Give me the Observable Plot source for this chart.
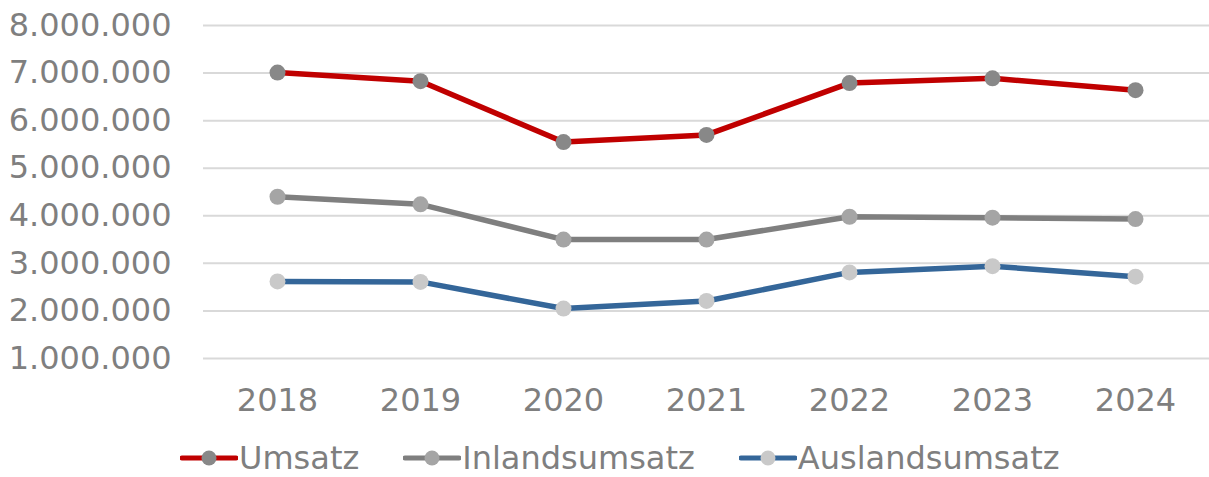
<!DOCTYPE html>
<html>
<head>
<meta charset="utf-8">
<script src="https://cdn.jsdelivr.net/npm/d3@7"></script>
<script src="https://cdn.jsdelivr.net/npm/@observablehq/plot@0.6"></script>
<style>
  html, body { margin: 0; padding: 0; background: #fff; }
  body { width: 1209px; height: 477px; position: relative; overflow: hidden; font-family: "DejaVu Sans", Verdana, sans-serif; }
  #legend { position: absolute; left: 180px; top: 440px; height: 36px; display: flex; align-items: center; font-size: 32px; line-height: 1; color: #7f7f7f; }
  .item { display: flex; align-items: center; margin-right: 44px; }
  .item svg { margin-right: 1px; }
</style>
</head>
<body>
<div id="chart"></div>
<div id="legend"></div>
<script>
const years = ["2018", "2019", "2020", "2021", "2022", "2023", "2024"];
const umsatz = [7010000, 6830000, 5550000, 5700000, 6790000, 6890000, 6640000];
const inlandsumsatz = [4400000, 4240000, 3500000, 3500000, 3980000, 3960000, 3930000];
const auslandsumsatz = [2620000, 2610000, 2050000, 2210000, 2810000, 2940000, 2720000];
const yTicks = [1000000, 2000000, 3000000, 4000000, 5000000, 6000000, 7000000, 8000000];
const seriesNames = ["Umsatz", "Inlandsumsatz", "Auslandsumsatz"];
const lineColors = ["#c00000", "#7f7f7f", "#346699"];
const dotColors = ["#888888", "#a5a5a5", "#c9c9c9"];

const seriesValues = [umsatz, inlandsumsatz, auslandsumsatz];
const data = seriesNames.map((name, s) => years.map((year, i) => ({ series: name, year, value: seriesValues[s][i] })));

const de = d3.formatLocale({ decimal: ",", thousands: ".", grouping: [3], currency: ["", " €"] });
const fmt = de.format(",");

const marks = [
  Plot.gridY(yTicks, { stroke: "#d9d9d9", strokeOpacity: 1, strokeWidth: 2 }),
  Plot.axisY(yTicks, { tickSize: 0, tickPadding: 32, tickFormat: fmt, fontSize: 32, fill: "#7f7f7f", label: null }),
  Plot.axisX({ tickSize: 0, tickPadding: 30, fontSize: 32, fill: "#7f7f7f", label: null })
];
data.forEach((rows, s) => {
  marks.push(Plot.line(rows, { x: "year", y: "value", stroke: lineColors[s], strokeWidth: 5.5, strokeLinejoin: "round" }));
  marks.push(Plot.dot(rows, { x: "year", y: "value", r: 8, fill: dotColors[s], stroke: "none" }));
});

const chart = Plot.plot({
  width: 1209,
  height: 430,
  marginLeft: 203,
  marginRight: 0,
  marginTop: 25,
  marginBottom: 72,
  style: { fontFamily: "DejaVu Sans, Verdana, sans-serif", background: "#fff" },
  x: { type: "point", domain: years, padding: 0.5, label: null },
  y: { domain: [1000000, 8000000], label: null },
  marks
});
document.getElementById("chart").appendChild(chart);

const legend = document.getElementById("legend");
seriesNames.forEach((name, s) => {
  const item = document.createElement("div");
  item.className = "item";
  item.innerHTML = `<svg width="58" height="20"><line x1="2" y1="10" x2="56" y2="10" stroke="${lineColors[s]}" stroke-width="5" stroke-linecap="round"/><circle cx="29" cy="10" r="7.5" fill="${dotColors[s]}"/></svg><span>${name}</span>`;
  legend.appendChild(item);
});
</script>
</body>
</html>
